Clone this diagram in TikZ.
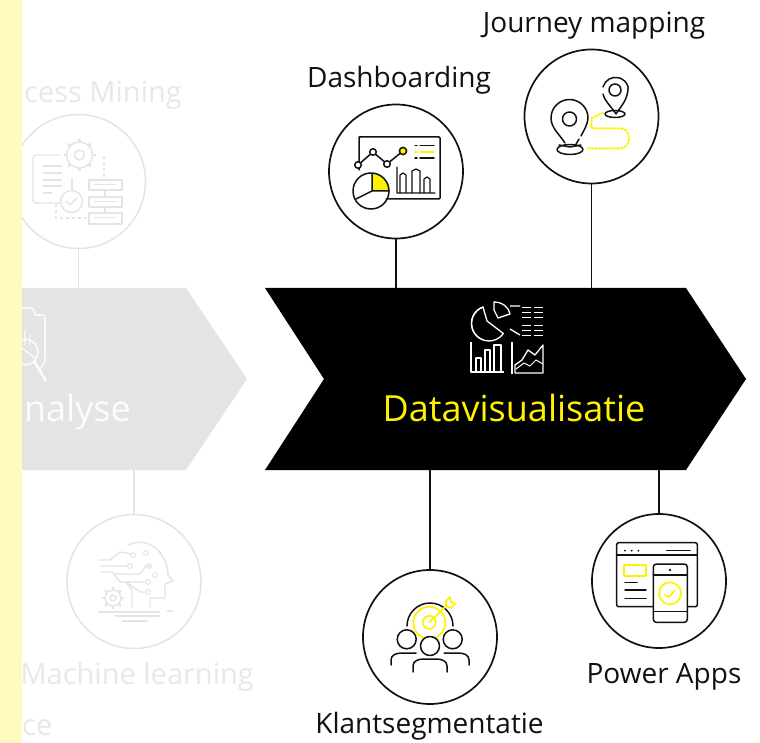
\documentclass[tikz,border=0pt]{standalone}
\usepackage{fontspec}
\setmainfont{Open Sans}
\definecolor{ygl}{HTML}{FFF200}
\definecolor{strip}{HTML}{FFFBC0}
\definecolor{ghost}{HTML}{E4E4E4}
\definecolor{ghosttext}{HTML}{E8E8E8}
\definecolor{ink}{HTML}{111111}
\tikzset{
  stage/.style={circle,draw=ink,line width=1.7pt,minimum size=134pt,inner sep=0pt,fill=white},
  ghoststage/.style={circle,draw=ghost,line width=1.5pt,minimum size=134pt,inner sep=0pt},
  link/.style={draw=ink,line width=1.5pt},
  ghostlink/.style={draw=ghost,line width=1.5pt},
  lbl/.style={anchor=base,inner sep=0pt,text=ink,font=\fontsize{28}{30}\selectfont},
  ghostlbl/.style={anchor=base west,inner sep=0pt,text=ghosttext,font=\fontsize{29}{30}\selectfont},
  ic/.style={draw=ink,line width=1.5pt,line join=round,line cap=round},
  icy/.style={draw=ygl,line width=1.7pt,line join=round,line cap=round},
  icw/.style={draw=white,line width=1.3pt,line join=round},
  icg/.style={draw=ghost,line width=1.4pt,line join=round},
  band/.style={minimum width=421pt,minimum height=182pt,inner sep=0pt}
}
\newcommand{\gearshape}[4]{% x y r style
  \draw[#4] (#1,#2) circle[radius=#3];
  \foreach \a in {0,45,...,315}{\draw[#4,line width=2.6pt] (#1,#2) ++(\a:#3) -- ++(\a:3);}
}
\begin{document}
\begin{tikzpicture}[x=1pt,y=-1pt]
\useasboundingbox (0,0) rectangle (760,743);
\fill[white] (0,0) rectangle (760,743);
% chevrons
\fill[ghost] (0,288) -- (186,288) -- (247,379) -- (186,470) -- (0,470) -- cycle;
\fill[black] (265,288) -- (686,288) -- (746,379) -- (686,470) -- (265,470) -- (324,379) -- cycle;
\node[band] (viz) at (475.5,379) {};
\node[band,minimum width=186pt] (ana) at (93,379) {};
% circles
\node[stage] (dash) at (396,171.5) {};
\node[stage] (jour) at (591.5,116.5) {};
\node[stage] (klant) at (430,637) {};
\node[stage] (pow) at (659,581) {};
\node[ghoststage] (pm) at (78.5,181.5) {};
\node[ghoststage] (ml) at (134,581.5) {};
% connectors
\draw[link] (dash) -- (dash |- viz.north);
\draw[link] (jour) -- (jour |- viz.north);
\draw[link] (klant) -- (klant |- viz.south);
\draw[link] (pow) -- (pow |- viz.south);
\draw[ghostlink] (pm) -- (pm |- ana.north);
\draw[ghostlink] (ml) -- (ml |- ana.south);
% labels
\node[lbl] (t1) at (399,88) {Dashboarding};
\node[lbl] (t2) at (594,33) {Journey mapping};
\node[lbl] (t3) at (429.5,733) {Klantsegmentatie};
\node[lbl] (t4) at (664,683) {Power Apps};
\node[lbl,text=ygl,font=\fontsize{36}{38}\selectfont] (t5) at (514,421) {Datavisualisatie};
\node[ghostlbl] (t6) at (24,103) {cess Mining};
\node[ghostlbl,anchor=base east,text=white!88!ghost,font=\fontsize{36}{38}\selectfont] (t7) at (131,421) {nalyse};
\node[ghostlbl,anchor=base east] (t8) at (254,684) {Machine learning};
\node[ghostlbl] (t9) at (22,735) {ce};
% dashboard icon
\draw[ic,rounded corners=1pt] (366,137) -- (359,137) -- (359,170) (359,137) -- (440,137) -- (440,199) -- (386,199);
\draw[ic] (358,165) -- (373,152) -- (387,164) -- (403,151);
\foreach \p in {(358,165),(373,152),(387,164)} \draw[ic,fill=white] \p circle[radius=3.3];
\draw[ic,fill=ygl] (403,151) circle[radius=3.6];
\draw[ic] (415,145.5) -- (417,145.5) (420,145.5) -- (434,145.5) (415,158) -- (417,158) (420,158) -- (434,158);
\draw[icy] (415,152) -- (417,152) (420,152) -- (434,152);
\draw[ic,line width=1.2pt] (397,167) -- (397,193) -- (435,193)
  (400,193) -- (400,175) -- (403,173) -- (406,175) -- (406,193)
  (412,193) -- (412,171) -- (416,169) -- (420,171) -- (420,193)
  (424,193) -- (424,179) -- (427,177) -- (430,179) -- (430,193);
\fill[ygl] (372,191) -- (372,174) arc[start angle=-90,end angle=0,radius=17] -- cycle;
\draw[ic,fill=none] (371,191) circle[radius=18];
\draw[ic] (372,174) -- (372,191) -- (389,191) (372,191) -- (356,199);
% journey icon
\draw[icy,dotted,line width=2pt] (603,112.7) -- (592,118) -- (591,127) -- (593,128.3) -- (620,128.3) .. controls (632,128.3) and (632,148.3) .. (620,148.3) -- (586,148.3);
\draw[ic] (581,145) -- (570,147) -- (559,145)
  (565,143) .. controls (560,135) and (551,128) .. (551,118) arc[start angle=180,end angle=360,radius=18.5] .. controls (587.5,125) and (584,130) .. (581,136) (579,139) -- (575,146);
\draw[ic] (570,149.5) ellipse[x radius=13,y radius=5];
\draw[ic] (569.5,119) circle[radius=7];
\draw[ic] (603,87) arc[start angle=195,end angle=345,radius=13] .. controls (628,100) and (621,106) .. (616,114) .. controls (611,106) and (605,102) .. (603,94);
\draw[ic] (615,114) ellipse[x radius=10,y radius=3.5];
\draw[ic] (615,90) circle[radius=6];
% klantsegmentatie icon
\draw[ic] (407,626) arc[start angle=180,end angle=360,radius=23];
\draw[icy] (420,635) arc[start angle=120,end angle=60,radius=-1];
\draw[icy] (419,635) arc[start angle=130,end angle=-300,radius=16] ;
\draw[icy] (429.3,622.3) circle[radius=6.5];
\draw[icy] (429.3,622.3) -- (446,606) (446,606) -- (446,601) -- (450,597) -- (451,602) -- (455,604) -- (451,608) -- (446,606);
\draw[ic,fill=white] (406.7,639.3) circle[radius=9.5];
\draw[ic,fill=white] (452.7,639.3) circle[radius=9.5];
\draw[ic,fill=white] (430,646) circle[radius=9.5];
\draw[ic] (391,665) -- (391,660) .. controls (391,655) and (396,653) .. (402,653) -- (416,653)
  (469,665) -- (469,660) .. controls (469,655) and (464,653) .. (458,653) -- (444,653)
  (413,672) -- (413,666) .. controls (413,661) and (418,659) .. (424,659) -- (436,659) .. controls (442,659) and (447,661) .. (447,666) -- (447,672);
% power apps icon
\draw[ic,rounded corners=2pt] (653,606.7) -- (616.7,606.7) -- (616.7,542.7) -- (697.3,542.7) -- (697.3,606.7) -- (687,606.7);
\draw[ic] (616.7,555) -- (697.3,555) (666.7,550.7) -- (690,550.7);
\fill[ink] (625,550.7) circle[radius=1] (631.7,550.7) circle[radius=1] (638.3,550.7) circle[radius=1];
\draw[icy] (624.3,565) rectangle (646,576);
\draw[ic] (625,582.7) -- (637,582.7) (625,590) -- (646,590) (625,598.3) -- (646,598.3);
\draw[ic,fill=white,rounded corners=3pt] (653.3,564) rectangle (687.3,622.3);
\draw[ic] (653.3,575) -- (687.3,575) (653.3,611.7) -- (687.3,611.7);
\fill[ink] (670,570) circle[radius=1.4];
\draw[icy] (670,593.3) circle[radius=11];
\draw[icy] (665,595) -- (669,597) -- (675,590);
% central icon
\draw[icw] (483,307) arc[start angle=-110,end angle=-250,radius=17.5] -- (483,340) arc[start angle=110,end angle=40,radius=0];
\draw[icw] (483,307) arc[start angle=250,end angle=110,radius=17.5] arc[start angle=110,end angle=35,radius=17.5] -- (487,321) -- cycle;
\draw[icw] (494,302) .. controls (503,302) and (509,308) .. (510,314) -- (498,318) -- (494,310) -- cycle;
\draw[icw] (510,306) -- (520,306) (510,329) -- (520,335);
\foreach \y in {307,312,317,325,330,335}{\draw[icw,line width=1pt] (522,\y) -- (531,\y) (534,\y) -- (543,\y);}
\draw[icw] (471,342) -- (471,372) -- (504,372)
 (476,372) -- (476,358) -- (481,358) -- (481,372)
 (485,372) -- (485,350) -- (490,350) -- (490,372)
 (494,372) -- (494,345) -- (501,345) -- (501,372);
\draw[icw] (512,342) -- (512,374);
\draw[icw] (515,373) -- (543,373) -- (543,345) -- (535,355) -- (528,350) -- (522,360) -- (515,365) -- cycle;
\draw[icw,line width=1pt] (516,369) -- (524,363) -- (530,366) -- (536,360) -- (543,364);
% process mining icon (ghost)
\gearshape{79.5}{155}{13}{icg}
\draw[icg] (79.5,155) circle[radius=5];
\draw[icg,rounded corners=3pt] (60,155) -- (33,155) -- (33,203) -- (61,203);
\draw[icg] (43,166) -- (62,166) (43,173) -- (62,173) (43,180) -- (62,180) (43,186) -- (62,186) (43,193) -- (52,193);
\draw[icg] (72,178) -- (72,190);
\draw[icg] (71.5,201.5) circle[radius=11];
\draw[icg] (66,201) -- (70,205) -- (77,198);
\draw[icg] (89,180) rectangle (122,190) (89,197) rectangle (122,207) (89,213) rectangle (122,224);
\draw[icg] (105,190) -- (105,197) (105,207) -- (105,213);
\draw[icg,dashed] (104,156) -- (104,180) (56,204) -- (56,218) -- (89,218);
\draw[icg,line width=1pt] (94,185) -- (116,185) (94,202) -- (116,202) (94,218) -- (116,218);
% analyse icon (ghost on ghost)
\draw[white!88!ghost,line width=1.5pt,rounded corners=3pt] (22,308) -- (34,308) -- (34,315) -- (45,315) -- (45,362) -- (38,372);
\draw[white!88!ghost,line width=1.5pt] (25,352) circle[radius=13];
\draw[white!88!ghost,line width=2.5pt] (34,361) -- (46,381);
\draw[white!88!ghost,line width=1.2pt] (25,330) -- (25,345) (30,334) -- (30,345) (22,348) -- (35,358);
% machine learning icon (ghost)
\draw[icg] (128,545) .. controls (150,535) and (168,555) .. (168,575) -- (173,581) -- (165,584) -- (165,598) -- (150,598) -- (150,607);
\draw[icg] (132,607) -- (132,590) -- (126,582);
\draw[icg] (98,560) -- (110,560) -- (120,552) -- (132,554)
 (100,566) -- (128,566)
 (100,572) -- (112,572) -- (120,582) -- (145,582)
 (115,574) -- (140,574) -- (146,566) -- (150,566)
 (126,582) -- (140,592) -- (146,592);
\foreach \p in {(133,555),(146,553),(130,566),(149,566),(155,575),(148,582),(148,592)} \draw[icg,line width=1pt] \p circle[radius=2.4];
\gearshape{113}{598}{8}{icg}
\draw[icg] (113,598) circle[radius=3];
\draw[icg] (98,612) -- (160,612) (115,616) -- (160,616) (122,621) -- (148,621) (167,611) -- (173,611);
% strip on top of the cut-off pieces
\fill[strip] (0,0) rectangle (21.5,743);
\end{tikzpicture}
\end{document}
